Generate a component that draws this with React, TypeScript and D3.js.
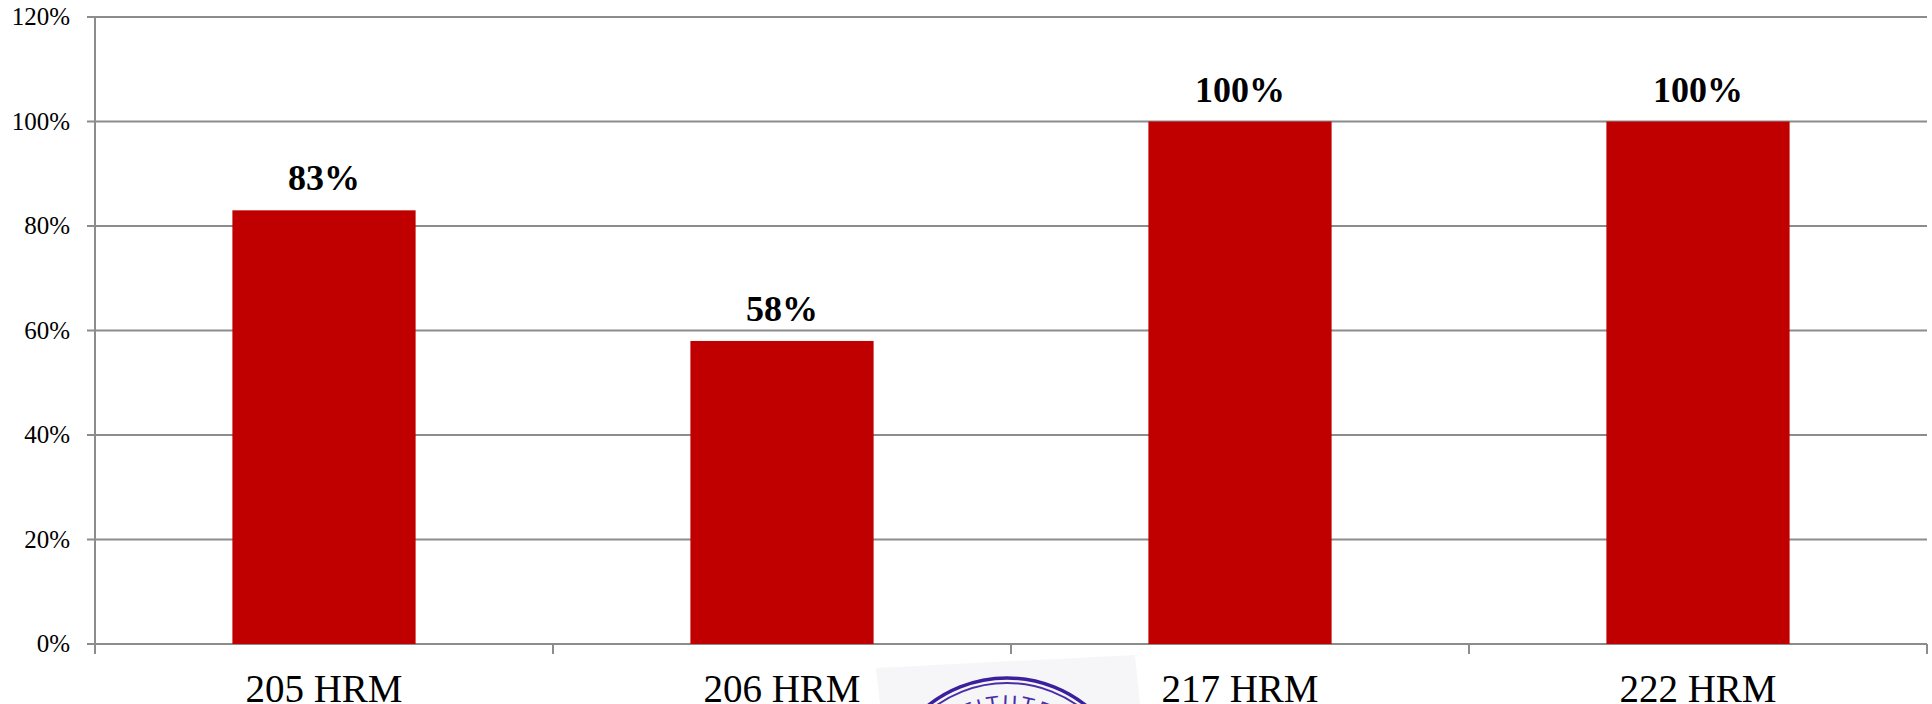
import React from "react";
import * as d3 from "d3";

const categories = ["205 HRM", "206 HRM", "217 HRM", "222 HRM"];
const values = [83, 58, 100, 100];
const yTicks = [0, 20, 40, 60, 80, 100, 120];

const W = 1932;
const H = 704;
const left = 95;
const right = 1927;
const top = 17;
const bottom = 644;

export default function App() {
  const x = d3.scaleBand<string>().domain(categories).range([left, right]).paddingInner(0).paddingOuter(0);
  const y = d3.scaleLinear().domain([0, 120]).range([bottom, top]);
  const bw = x.bandwidth() * 0.4;
  const grid = "#8c8c8c";
  const font = "'Liberation Serif', 'Times New Roman', serif";
  const stampCx = 1007;
  const stampCy = 805;
  const arcPath = d3.arc()({ innerRadius: 95, outerRadius: 95, startAngle: -Math.PI / 2, endAngle: Math.PI / 2 }) as string;

  return (
    <svg width={W} height={H} style={{ position: "absolute", left: 0, top: 0, background: "#fff" }} fontFamily={font}>
      {/* stamp image approximation */}
      <g>
        <polygon points="876,668 1135,655 1140,704 880,704" fill="#f6f6f8" />
        <circle cx={stampCx} cy={stampCy} r={127} fill="none" stroke="#3b1f9c" strokeWidth={3.5} />
        <circle cx={stampCx} cy={stampCy} r={122} fill="none" stroke="#4a2ea8" strokeWidth={2} />
        <g transform={`translate(${stampCx},${stampCy})`}>
          <path id="stampArc" d={arcPath} fill="none" stroke="none" />
          <text fontFamily="'DejaVu Sans', sans-serif" fontSize={20} fill="#4a2ea8" letterSpacing={3}>
            <textPath href="#stampArc" startOffset="25%" textAnchor="middle">INSTITUTE OF</textPath>
          </text>
        </g>
      </g>
      {/* gridlines */}
      {yTicks.map((t) => (
        <line key={"g" + t} x1={left - 8} x2={right} y1={y(t)} y2={y(t)} stroke={grid} strokeWidth={2} />
      ))}
      {/* y axis */}
      <line x1={left} x2={left} y1={top} y2={bottom + 10} stroke={grid} strokeWidth={2} />
      {/* x ticks */}
      {categories.map((c, i) => (
        <line key={"xt" + i} x1={(x(c) as number)} x2={(x(c) as number)} y1={bottom} y2={bottom + 10} stroke={grid} strokeWidth={2} />
      ))}
      <line x1={right} x2={right} y1={bottom} y2={bottom + 10} stroke={grid} strokeWidth={2} />
      {/* y labels */}
      {yTicks.map((t) => (
        <text key={"yl" + t} x={70} y={y(t) + 8} textAnchor="end" fontSize={25} fill="#000">
          {t + "%"}
        </text>
      ))}
      {/* bars */}
      {categories.map((c, i) => {
        const cx = (x(c) as number) + x.bandwidth() / 2;
        return (
          <g key={"b" + i}>
            <rect x={cx - bw / 2} y={y(values[i])} width={bw} height={bottom - y(values[i])} fill="#c00000" />
            <text x={cx} y={y(values[i]) - 20} textAnchor="middle" fontSize={36} fontWeight="bold" fill="#000">
              {values[i] + "%"}
            </text>
            <text x={cx} y={702} textAnchor="middle" fontSize={39} fill="#000">
              {c}
            </text>
          </g>
        );
      })}
    </svg>
  );
}
